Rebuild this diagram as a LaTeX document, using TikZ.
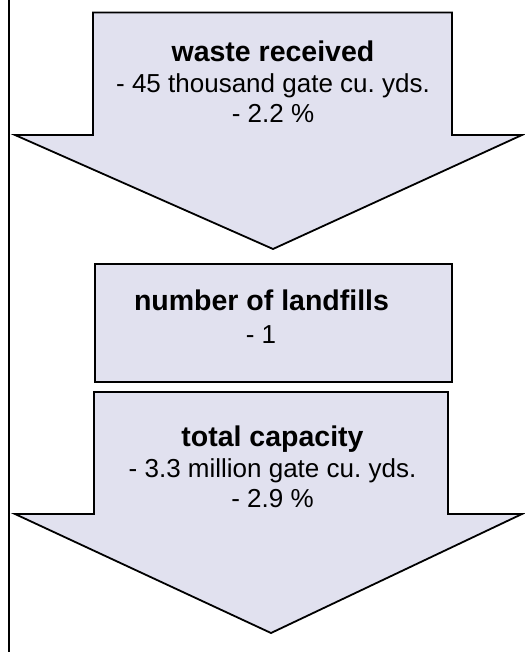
\documentclass[tikz,border=0pt]{standalone}
\usepackage{fontspec}
\setmainfont{Liberation Sans}
\frenchspacing
\definecolor{boxfill}{RGB}{225,225,239}
\tikzset{
  shapebox/.style={draw=black, fill=boxfill, line width=1.8pt, line join=miter},
  headtxt/.style={anchor=base, inner sep=0pt, font=\fontsize{28.5}{30}\selectfont\bfseries},
  bodytxt/.style={anchor=base, inner sep=0pt, font=\fontsize{26}{30}\selectfont},
  sideline/.style={draw=black, line width=2pt}
}
\begin{document}
\begin{tikzpicture}[x=1pt, y=-1pt]
\useasboundingbox (0,0) rectangle (524,652);
% left vertical line
\coordinate (lt) at (9,0);
\coordinate (lb) at (9,652);
\draw[sideline] (lt) -- (lb);
% arrow 1
\draw[shapebox] (93,12.5) -- (452,12.5) -- (452,135) -- (522,135) -- (273,249) -- (15,135) -- (93,135) -- cycle;
\node[headtxt] (a1h) at (273,62) {waste received};
\node[bodytxt] (a1l2) at (273,92.5) {- 45 thousand gate cu. yds.};
\node[bodytxt] (a1l3) at (273,122.5) {- 2.2 \%};
% rectangle
\draw[shapebox] (95,264) rectangle (452,382);
\node[headtxt] (rh) at (261.5,310) {number of landfills};
\node[bodytxt] (rl2) at (261,343) {- 1};
% arrow 3
\draw[shapebox] (94,392) -- (448,392) -- (448,514) -- (522,514) -- (271,633) -- (15,514) -- (94,514) -- cycle;
\node[headtxt] (a3h) at (272.5,446.7) {total capacity};
\node[bodytxt] (a3l2) at (272.5,477) {- 3.3 million gate cu. yds.};
\node[bodytxt] (a3l3) at (272.5,507.5) {- 2.9 \%};
\end{tikzpicture}
\end{document}
